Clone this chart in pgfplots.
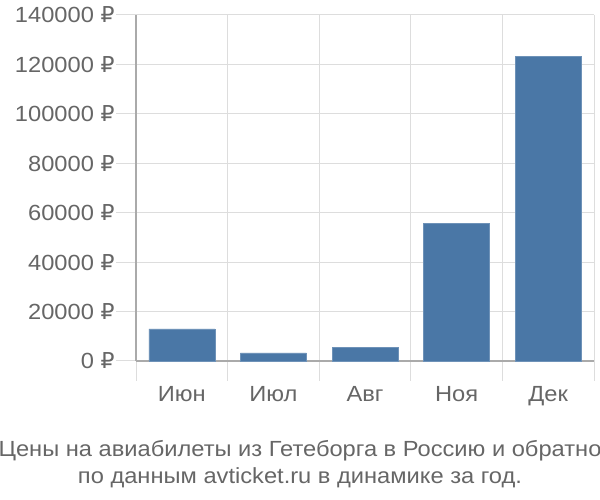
\documentclass[border=0pt]{standalone}
\usepackage{pgfplots}
\pgfplotsset{compat=1.18}
\usepackage{fontspec}
\setmainfont[FakeStretch=1.08]{Liberation Sans}
\newfontfamily\rub[FakeStretch=1.0]{DejaVu Sans}
\newcommand{\R}{{\rub ₽}}
\definecolor{txt}{HTML}{666666}
\definecolor{gridc}{HTML}{DDDDDD}
\definecolor{axc}{HTML}{AAAAAA}
\definecolor{barc}{HTML}{4A77A6}
\begin{document}
\begin{tikzpicture}[x=1bp,y=1bp]
\useasboundingbox (0,0) rectangle (600,500);
\begin{axis}[
  at={(136bp,139bp)}, anchor=south west,
  scale only axis, width=458bp, height=346bp,
  xmin=-0.5, xmax=4.5, ymin=0, ymax=140000,
  axis x line*=bottom, axis y line*=left,
  axis line style={axc, line width=1.2pt},
  xtick={-0.5,0.5,1.5,2.5,3.5,4.5}, xticklabels={},
  extra x ticks={0,1,2,3,4},
  extra x tick labels={Июн,Июл,Авг,Ноя,Дек},
  extra x tick style={major tick length=0pt, grid=none, tick label style={yshift=-22bp}},
  ytick={0,20000,40000,60000,80000,100000,120000,140000},
  yticklabels={0 \R,20000 \R,40000 \R,60000 \R,80000 \R,100000 \R,120000 \R,140000 \R},
  xmajorgrids, ymajorgrids,
  grid style={gridc, line width=1pt},
  tick align=outside,
  major tick length=20bp,
  tick style={gridc, line width=1pt},
  ticklabel style={font=\fontsize{22}{25}\selectfont, text=txt},
  yticklabel style={xshift=2bp},
  scaled y ticks=false,
  clip=false,
]
\addplot[ybar, bar width=0.72, fill=barc, draw=barc!80!white] coordinates {
  (0,13000) (1,3300) (2,5400) (3,55700) (4,123300)
};
\end{axis}
\node[text=txt, align=center, font=\fontsize{22}{27}\selectfont] at (300,36)
  {Цены на авиабилеты из Гетеборга в Россию и обратно\\по данным avticket.ru в динамике за год.};
\end{tikzpicture}
\end{document}
